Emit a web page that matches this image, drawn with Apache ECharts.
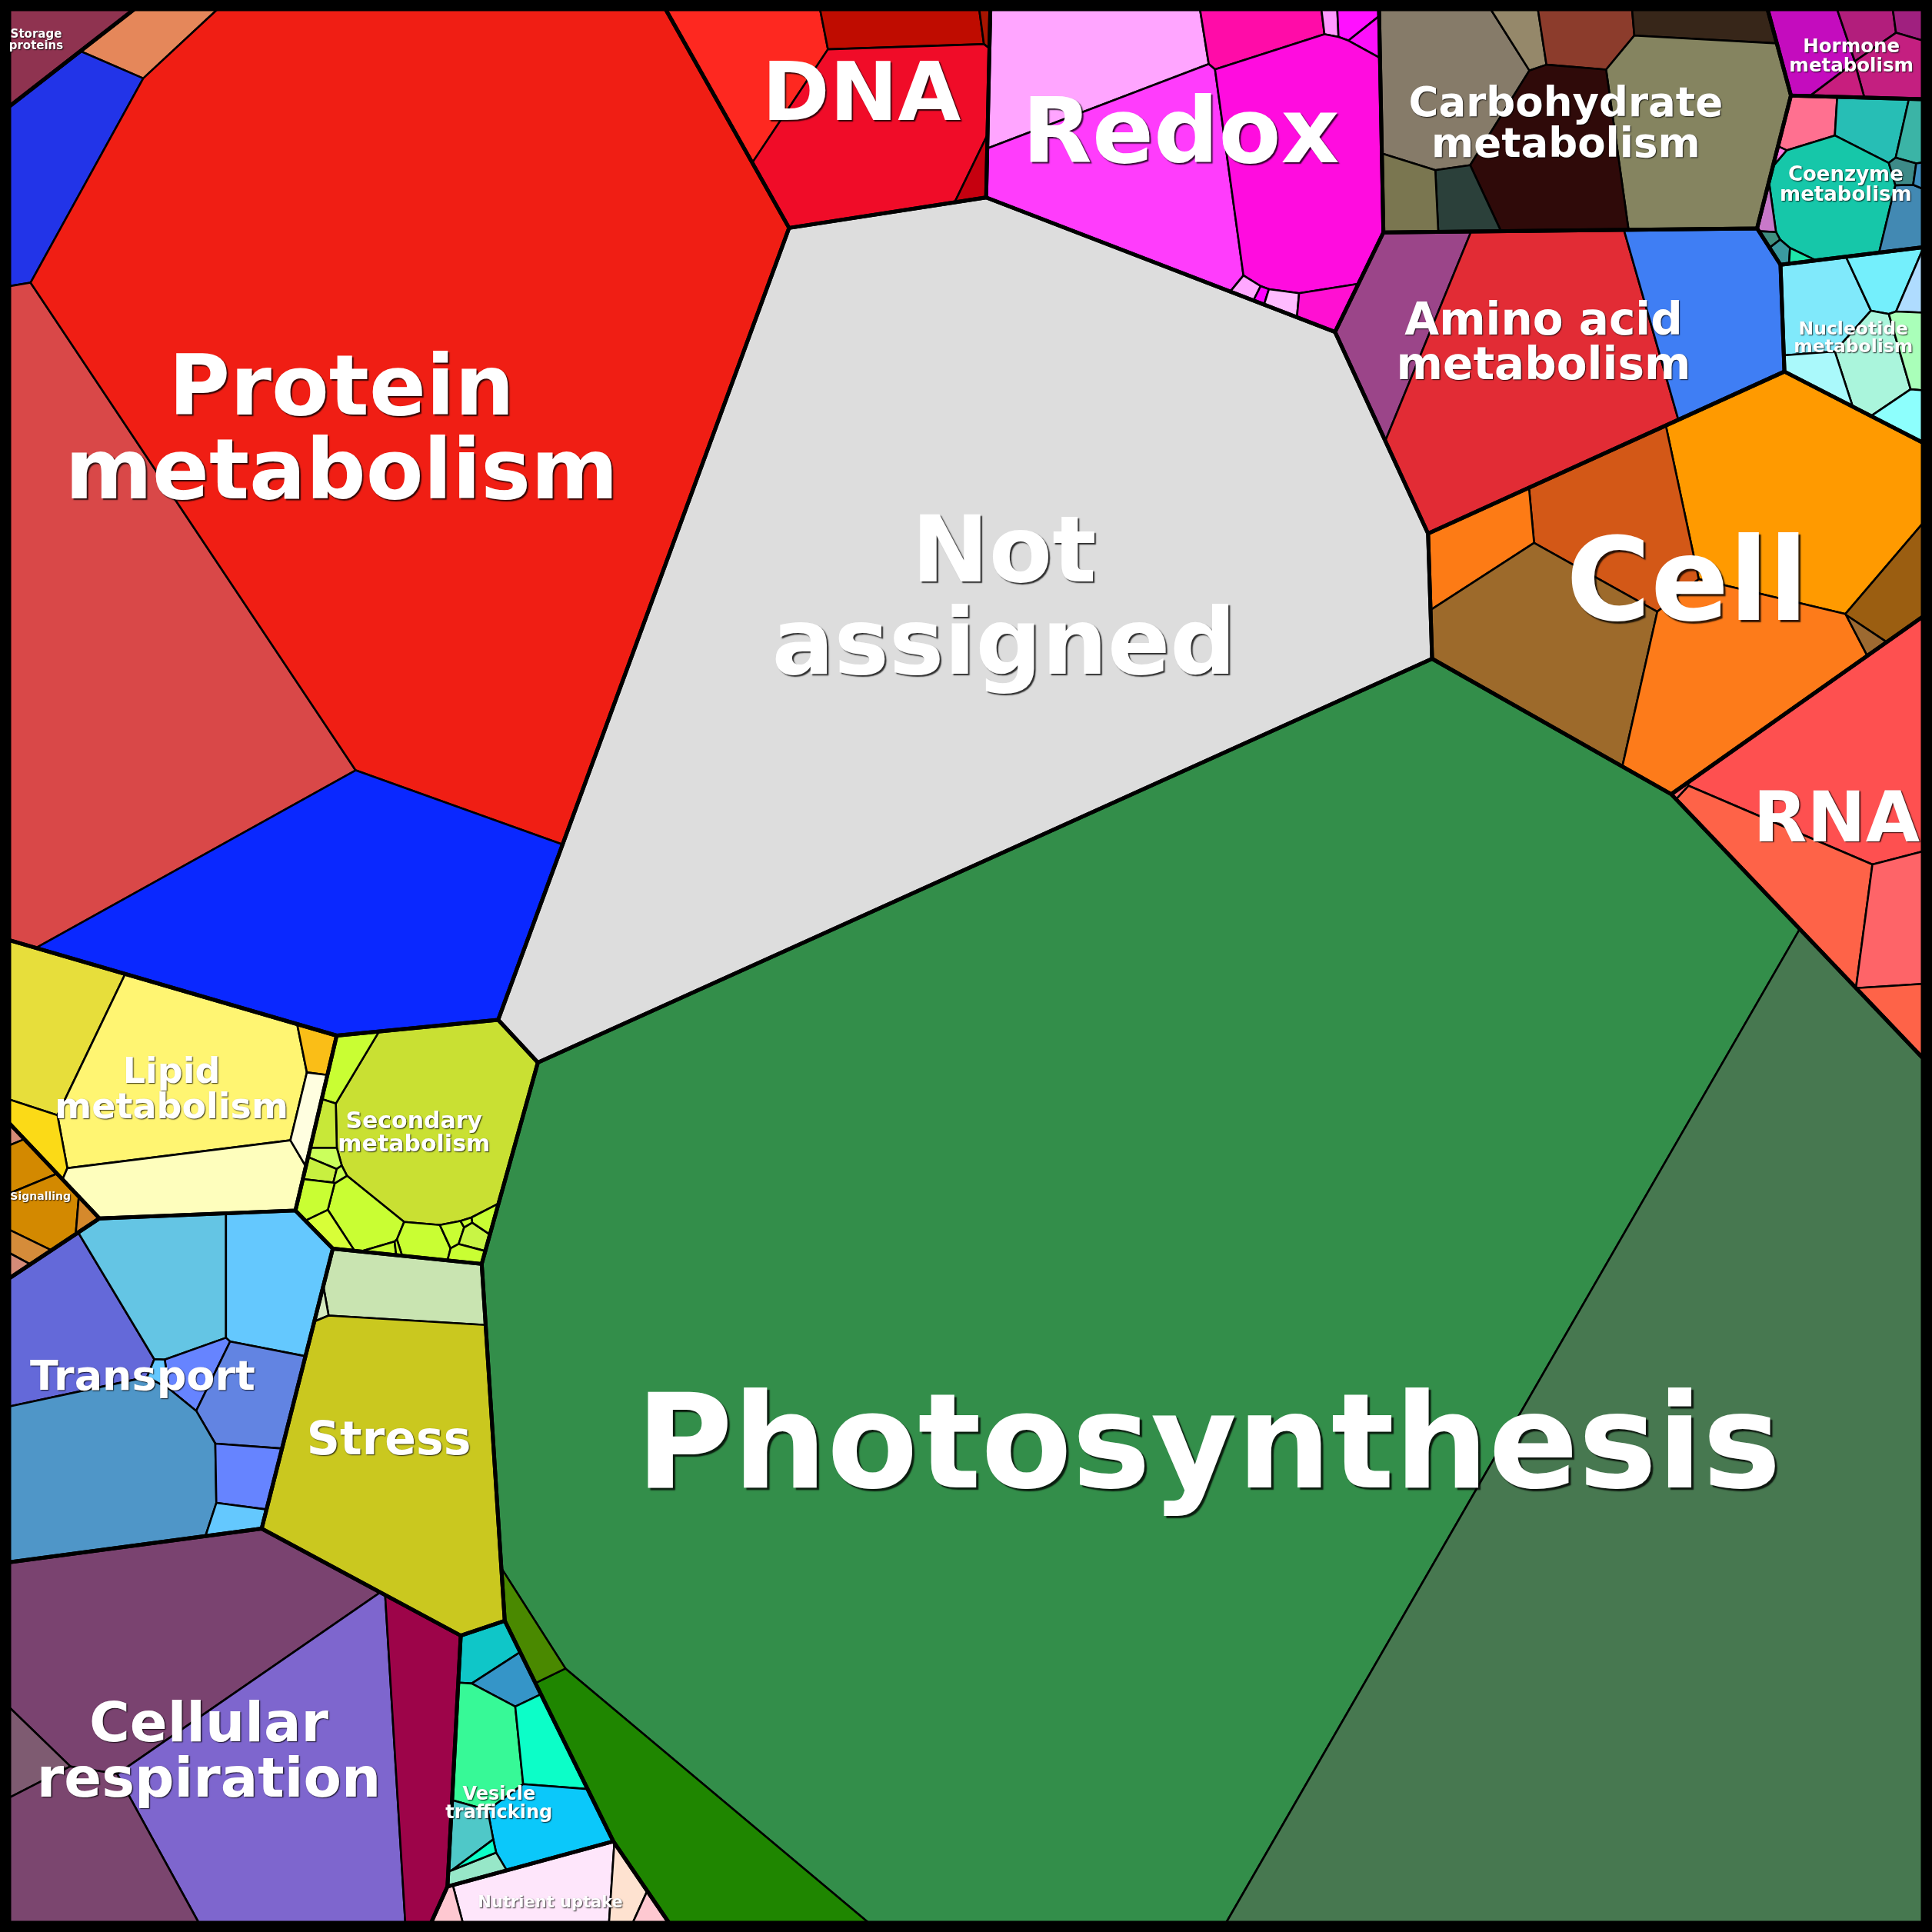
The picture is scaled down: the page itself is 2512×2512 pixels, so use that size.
<!DOCTYPE html>
<html><head><meta charset="utf-8">
<script src="https://cdn.jsdelivr.net/npm/echarts@6/dist/echarts.min.js"></script>
<style>html,body{margin:0;padding:0;background:#000}#chart{width:2512px;height:2512px}</style>
</head><body><div id="chart"></div>
<script>
// ================= DATA (area units) =================
const categories = ['Storage proteins','Protein metabolism','DNA','Redox','Carbohydrate metabolism','Hormone metabolism','Coenzyme metabolism','Nucleotide metabolism','Amino acid metabolism','Cell','RNA','Not assigned','Photosynthesis','Lipid metabolism','Signalling','Secondary metabolism','Transport','Stress','Cellular respiration','Vesicle trafficking','Nutrient uptake'];
const categoryValues = [4000,423500,35500,66700,57400,8300,15700,13900,62300,89400,36500,297500,982900,43700,4600,29400,60700,44400,105600,17200,8100];
// sub-bin values inside each category (relative)
const storageParts = [1];
const proteinParts = [3270,11100,81400,277000,54800];
const dnaParts = [9100,3900,200,21700,650];
const redoxParts = [12900,3200,240,550,400,21100,22000,250,100,400,1100];
const carbohydrateParts = [12100,1230,3090,2640,19100,12650,2000,2400];
const hormoneParts = [3790,1410,550,2560,680];
const coenzymeParts = [1500,2200,800,7560,1400,350,120,300,60,120,200,130];
const nucleotideParts = [3800,1700,470,2800,1000,1100,850];
const aminoParts = [9300,38000,14400];
const cellParts = [28600,12500,4470,19200,19400,3000,350];
const rnaParts = [20100,9300,4800,1600,60];
const notAssignedParts = [1];
const photosynthesisParts = [698000,262500,20500,1760];
const lipidParts = [8500,22100,1500,8860,850,1100];
const signallingParts = [100,900,2300,250,450,160];
const secondaryParts = [19700,1200,600,300,350,80,2100,700,550,1000,150,40,250,350,250,330,40];
const transportParts = [10700,10050,8200,1600,5380,20400,2300,900,250];
const stressParts = [6600,150,37700];
const respirationParts = [36900,1800,40300,14200,11400];
const vesicleParts = [1540,1200,4410,2500,4680,1300,600,200];
const nutrientParts = [6100,1200,380,450];
const partValues = [storageParts,proteinParts,dnaParts,redoxParts,carbohydrateParts,hormoneParts,coenzymeParts,nucleotideParts,aminoParts,cellParts,rnaParts,notAssignedParts,photosynthesisParts,lipidParts,signallingParts,secondaryParts,transportParts,stressParts,respirationParts,vesicleParts,nutrientParts];

// ================= LAYOUT HINTS (Voronoi seed points, reference units) =================
const BOX = [[7.5,7.5],[1560.5,7.5],[1560.5,1560.5],[7.5,1560.5]];
const categorySeeds = [[41,33],[280,340],[705,100],[930,105],[1288,98],[1495,42],[1492,150],[1507,272],[1290,280],[1390,500],[1510,670],[770,520],[1040,1118],[125,872],[30,962],[337,922],[135,1120],[312,1165],[175,1420],[402,1432],[430,1535]];
const partSeeds = [
 [[41,33]],
 [[96,40],[45,158],[105,520],[375,340],[230,745]],
 [[610,45],[712,25],[794,14],[715,115],[787,150]],
 [[865,50],[1015,26],[1072,19],[1094,18],[1106,33],[905,155],[1050,135],[993,227],[1013,237],[1035,244],[1068,247]],
 [[1170,70],[1227,34],[1266,28],[1370,19],[1365,110],[1258,125],[1183,160],[1141,162]],
 [[1465,40],[1512,24],[1549,19],[1537,60],[1490,73]],
 [[1463,103],[1512,106],[1552,115],[1482,165],[1544,180],[1543,147],[1557,149],[1432,172],[1439,134],[1431,193],[1444,210],[1460,211]],
 [[1476,253],[1532,227],[1553,236],[1520,292],[1551,283],[1480,305],[1547,332]],
 [[1128,255],[1250,305],[1400,262]],
 [[1458,405],[1318,435],[1210,445],[1265,530],[1420,565],[1540,475],[1512,517]],
 [[1510,625],[1465,730],[1540,740],[1545,820],[1366,655]],
 [[770,520]],
 [[885,1010],[1370,1290],[495,1475],[415,1310]],
 [[45,822],[145,870],[22,893],[155,950],[254,848],[248,895]],
 [[11,912],[19,934],[36,975],[70,977],[20,1008],[13,1021]],
 [[355,905],[280,860],[265,907],[265,930],[260,942],[276,946],[296,978],[257,968],[270,995],[347,999],[305,1009],[322,1007],[371,988],[386,993],[394,981],[382,1008],[380,983]],
 [[55,1075],[130,1030],[218,1030],[155,1100],[200,1122],[80,1192],[195,1190],[190,1228],[127,1104]],
 [[329,1040],[262,1052],[320,1190]],
 [[130,1320],[35,1418],[228,1462],[95,1535],[342,1455]],
 [[391,1345],[413,1379],[386,1430],[435,1425],[430,1490],[366,1502],[375,1523],[349,1530]],
 [[420,1535],[495,1540],[517,1550],[350,1552]]
];

// ================= STYLE =================
const partColors = [
 ['#8f3350'],
 ['#e5875a','#2234e8','#d94848','#f01e14','#0a28ff'],
 ['#fe2820','#bf0c00','#a81400','#f00c28','#c6000f'],
 ['#ffa5ff','#ff0ca8','#ff99ff','#ff10ff','#fc10fa','#ff3cfc','#ff0cdf','#ffa8ff','#ff00ff','#ffbbff','#ff10d2'],
 ['#867b69','#95886a','#8c3c2c','#372619','#858460','#2f0a09','#2b403a','#7a7650'],
 ['#c40cbe','#b21e7c','#a0207f','#c41f80','#c81e7e'],
 ['#ff7090','#27beb5','#3bb4a6','#16c7a9','#4289b3','#3d8a88','#3f8fc0','#c878c9','#ff78e6','#3f8f80','#3a9aa0','#1ee6aa'],
 ['#80e9fb','#74effc','#afdcff','#aaf5dc','#a9ffb9','#aaf9fb','#8dfffd'],
 ['#9b4589','#e22c35','#3f7ef4'],
 ['#ff9a00','#d35817','#fd7b15','#9d6a2b','#fd7b1a','#9b5e11','#9d6a31'],
 ['#fe5050','#fe6348','#fe6468','#fe6348','#fe6a6a'],
 ['#dddddd'],
 ['#338e4a','#477850','#1f8600','#4a8900'],
 ['#e7de3b','#fff572','#fbda17','#fefebd','#fabe17','#fffee0'],
 ['#d58b78','#d38900','#d38900','#d5892c','#d58c3a','#d58b78'],
 ['#c9e033','#c9fe33','#c8e838','#cbff5c','#c8f040','#c8ff50','#c9fe33','#c9fe33','#d8fe38','#c9fe33','#c9fe33','#c9fe33','#c9fe33','#c8f545','#c9fe33','#c9fe33','#c9fe33'],
 ['#6469d9','#64c5e4','#64c8fe','#6684ff','#6284e2','#4f96c8','#6684ff','#64c8fe','#64c8fe'],
 ['#c9e4b1','#d5eabf','#cac81f'],
 ['#7a4370','#7e5b71','#7e66ce','#7b466f','#9d0449'],
 ['#0fc6c8','#3595c8','#37f997','#0cfec8','#0bc8fa','#4fc8c8','#97e7c8','#0cfec8'],
 ['#fee6fb','#fee2d0','#fec8d1','#fec8d1']
];
const labelSizes = [15,109,106,118,53,24.5,26,23.5,58,150,91,120,172,46,14,30,54,60,72,24,21];
// label offsets from the cell centroid (reference units)
const labelNudge = [[-12,-1],[-5,-35],[8,-4],[-15,-2],[-10,6],[0,4],[0,5],[-5,5],[-6,-2],[-2,10],[-2,0],[32,9],[-28,63],[10,0],[1,-8],[-2,-5],[-11,1],[-7,3],[-13,12],[-10,29],[-4,8]];
const labelOneLine = ['DNA','Redox','Cell','RNA','Photosynthesis','Signalling','Transport','Stress','Nutrient uptake'];

// ================= POWER-DIAGRAM (Voronoi treemap) =================
function area(p){let a=0;for(let i=0;i<p.length;i++){const q=p[i],r=p[(i+1)%p.length];a+=q[0]*r[1]-r[0]*q[1];}return a/2;}
function centroid(p){let a=0,cx=0,cy=0;for(let i=0;i<p.length;i++){const q=p[i],r=p[(i+1)%p.length];const c=q[0]*r[1]-r[0]*q[1];a+=c;cx+=(q[0]+r[0])*c;cy+=(q[1]+r[1])*c;}a/=2;if(Math.abs(a)<1e-9)return p[0];return [cx/(6*a),cy/(6*a)];}
function inside(poly,pt){let c=false;for(let i=0,j=poly.length-1;i<poly.length;j=i++){const a=poly[i],b=poly[j];if(((a[1]>pt[1])!==(b[1]>pt[1]))&&(pt[0]<(b[0]-a[0])*(pt[1]-a[1])/(b[1]-a[1])+a[0]))c=!c;}return c;}
function clip(pts,labs,ax,ay,b,lab){
  const out=[],outL=[],n=pts.length;
  for(let k=0;k<n;k++){
    const P=pts[k],Q=pts[(k+1)%n],L=labs[k];
    const fp=ax*P[0]+ay*P[1]-b,fq=ax*Q[0]+ay*Q[1]-b;
    const pin=fp<=0,qin=fq<=0;
    if(pin){out.push(P);outL.push(L);}
    if(pin!==qin){const t=fp/(fp-fq);const I=[P[0]+t*(Q[0]-P[0]),P[1]+t*(Q[1]-P[1])];
      out.push(I);outL.push(pin?lab:L);}
  }
  return [out,outL];
}
function powerCells(S,W,boundary){
  const n=S.length,cells=[];
  for(let i=0;i<n;i++){
    let pts=boundary.slice(),labs=boundary.map(()=>-1);
    for(let j=0;j<n&&pts.length;j++){if(j===i)continue;
      const ax=2*(S[j][0]-S[i][0]),ay=2*(S[j][1]-S[i][1]);
      if(Math.abs(ax)+Math.abs(ay)<1e-12)continue;
      const b=(S[j][0]*S[j][0]+S[j][1]*S[j][1])-(S[i][0]*S[i][0]+S[i][1]*S[i][1])-W[j]+W[i];
      [pts,labs]=clip(pts,labs,ax,ay,b,j);
    }
    cells.push({pts,labs});
  }
  return cells;
}
function solve(S,T,boundary,iters){
  const n=S.length,W=new Array(n).fill(0);
  if(n===1)return [{pts:boundary.slice(),labs:boundary.map(()=>-1)}];
  for(let it=0;it<iters;it++){
    const cells=powerCells(S,W,boundary),dW=new Array(n).fill(0);
    for(let i=0;i<n;i++){
      const c=cells[i],A=c.pts.length>2?Math.abs(area(c.pts)):0;
      let D=0;
      for(let k=0;k<c.pts.length;k++){const j=c.labs[k];if(j<0)continue;
        const P=c.pts[k],Q=c.pts[(k+1)%c.pts.length];
        D+=Math.hypot(Q[0]-P[0],Q[1]-P[1])/(2*Math.hypot(S[j][0]-S[i][0],S[j][1]-S[i][1]));}
      if(A<1e-6||D<1e-9){let m=-Infinity;for(let j=0;j<n;j++){if(j===i)continue;const d2=(S[j][0]-S[i][0])**2+(S[j][1]-S[i][1])**2;m=Math.max(m,W[j]-d2);}dW[i]=Math.max(0,m+1-W[i]);}
      else dW[i]=0.5*(T[i]-A)/D;
    }
    for(let i=0;i<n;i++)W[i]+=dW[i];
  }
  return powerCells(S,W,boundary);
}
function fitInside(poly,s,c){let p=s;for(let k=0;k<40;k++){if(inside(poly,p))return p;p=[c[0]+(p[0]-c[0])*0.85,c[1]+(p[1]-c[1])*0.85];}return c;}

const totalV=categoryValues.reduce((a,b)=>a+b,0);
const boxA=Math.abs(area(BOX));
const topCells=solve(categorySeeds,categoryValues.map(v=>v/totalV*boxA),BOX,900);
const parents=[],cells=[];
categories.forEach((name,i)=>{
  const poly=topCells[i].pts;if(poly.length<3)return;
  const pa=Math.abs(area(poly)),pc=centroid(poly);
  const vals=partValues[i],sv=vals.reduce((a,b)=>a+b,0);
  const seeds=partSeeds[i].map(s=>fitInside(poly,s,pc));
  const sub=solve(seeds,vals.map(v=>v/sv*pa),poly,500);
  sub.forEach((c,k)=>{if(c.pts.length>2)cells.push({pts:c.pts,color:partColors[i][k],c:centroid(c.pts)});});
  const label=labelOneLine.includes(name)?name:name.replace(/ (?=\S+$)/,'\n');
  parents.push({pts:poly,c:[pc[0]+labelNudge[i][0],pc[1]+labelNudge[i][1]],label,size:labelSizes[i]});
});

// ================= CHART =================
const chart=echarts.init(document.getElementById('chart'),null,{renderer:'canvas'});
chart.setOption({
  backgroundColor:'#000',animation:false,
  grid:{left:12,top:12,width:2488,height:2488},
  xAxis:{type:'value',min:7.5,max:1560.5,show:false},
  yAxis:{type:'value',min:7.5,max:1560.5,inverse:true,show:false},
  series:[
    {type:'custom',coordinateSystem:'cartesian2d',silent:true,z:1,data:cells.map(c=>c.c),
     renderItem:(p,api)=>{const c=cells[p.dataIndex];return {type:'polygon',shape:{points:c.pts.map(q=>api.coord(q))},style:{fill:c.color,stroke:'#000',lineWidth:2.6,lineJoin:'round'}};}},
    {type:'custom',coordinateSystem:'cartesian2d',silent:true,z:2,data:parents.map(c=>c.c),
     renderItem:(p,api)=>{const c=parents[p.dataIndex];return {type:'polygon',shape:{points:c.pts.map(q=>api.coord(q))},style:{fill:'none',stroke:'#000',lineWidth:5,lineJoin:'round'}};}},
    {type:'custom',coordinateSystem:'cartesian2d',silent:true,z:3,data:parents.map(c=>c.c),
     renderItem:(p,api)=>{const c=parents[p.dataIndex];const pt=api.coord(c.c);const s=c.size;const o=Math.max(1,s/55);
       return {type:'text',x:pt[0],y:pt[1],style:{text:c.label,fill:'#fff',fontSize:s,fontWeight:'bold',fontFamily:'DejaVu Sans',align:'center',verticalAlign:'middle',lineHeight:s,textShadowColor:'rgba(0,0,0,0.8)',textShadowBlur:1.5,textShadowOffsetX:o,textShadowOffsetY:o}};}}
  ]
});
</script></body></html>
